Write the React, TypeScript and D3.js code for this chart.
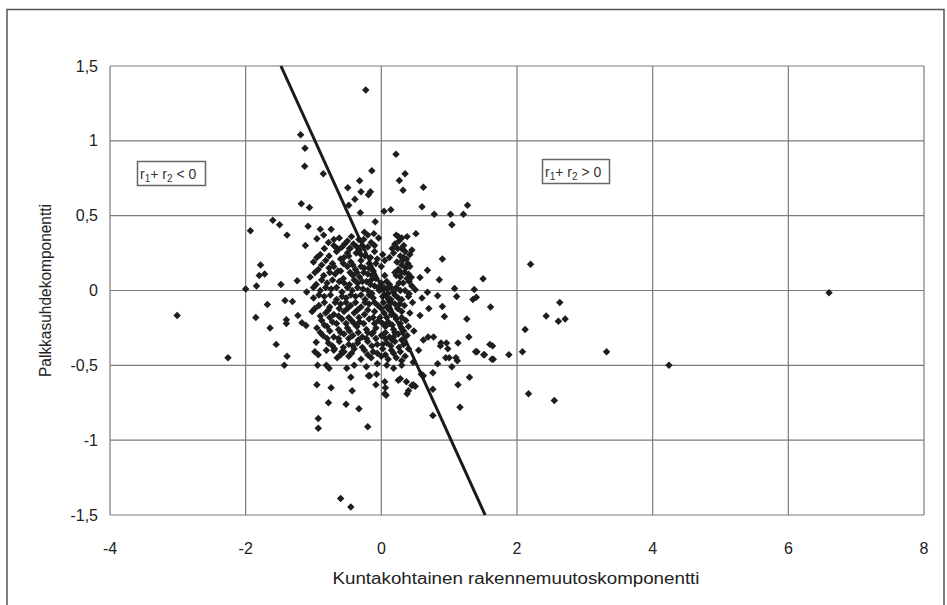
import React from "react";
import * as d3 from "d3";

const xTicks = [-4, -2, 0, 2, 4, 6, 8];
const yTicks = [-1.5, -1, -0.5, 0, 0.5, 1, 1.5];
const xTitle = "Kuntakohtainen rakennemuutoskomponentti";
const yTitle = "Palkkasuhdekomponentti";
const lineXs = [-1.48, 1.53];
const lineYs = [1.5, -1.5];

const outlierPoints: [number, number][] = [
  [-3.01, -0.167], [-2.26, -0.45], [-2.0, 0.01], [-1.93, 0.4], [-1.85, -0.18], [-1.84, 0.03],
  [-1.8, 0.1], [-1.78, 0.17], [-1.72, 0.11], [6.6, -0.015], [4.24, -0.5], [3.32, -0.41],
  [2.55, -0.735], [2.17, -0.69], [2.2, 0.176], [2.63, -0.08], [2.43, -0.17], [2.61, -0.205],
  [2.71, -0.19], [2.12, -0.26], [2.08, -0.41], [1.88, -0.43],
];

const upperPoints: [number, number][] = [
  [-0.23, 1.34], [-1.19, 1.04], [-1.125, 0.95], [-1.13, 0.83], [-0.855, 0.78], [0.216, 0.91],
  [-0.14, 0.8], [0.35, 0.78], [0.265, 0.735], [0.32, 0.67], [0.62, 0.69], [-0.32, 0.733],
  [-0.495, 0.687], [-0.3, 0.66], [-0.19, 0.64], [-0.16, 0.66], [-0.39, 0.61], [-0.48, 0.57],
  [-1.18, 0.58], [-1.06, 0.555], [-0.31, 0.52], [0.04, 0.53], [0.14, 0.54], [0.6, 0.56],
  [0.78, 0.51], [1.02, 0.51], [1.21, 0.51], [1.27, 0.57], [1.04, 0.44], [-1.6, 0.47],
  [-1.5, 0.44], [-1.08, 0.43], [-0.9, 0.41], [-0.74, 0.41], [-0.09, 0.46], [-1.39, 0.37],
  [-0.95, 0.345], [-0.25, 0.39], [-0.11, 0.38], [0.51, 0.38], [-1.12, 0.3], [-0.65, 0.28],
  [-0.54, 0.31], [-0.47, 0.28], [-0.5, 0.25], [-0.36, 0.29],
];

const sidePoints: [number, number][] = [
  [-1.48, 0.04], [-1.24, 0.065], [-1.68, -0.094], [-1.64, -0.25], [-1.55, -0.36], [-1.42, -0.067],
  [-1.31, -0.074], [-1.39, -0.44], [-1.43, -0.5], [-1.4, -0.196], [-1.4, -0.22], [-1.23, -0.167],
  [-1.17, -0.216], [-1.11, -0.234],
  [0.45, 0.27], [0.9, 0.21], [0.68, 0.136], [0.57, 0.087], [0.44, 0.089], [0.855, 0.072],
  [1.08, 0.013], [1.37, 0.007], [1.11, -0.04], [1.4, -0.045], [0.5, 0.005], [0.68, -0.011],
  [0.83, -0.035], [1.5, 0.078], [1.35, -0.06],
];

const lowerPoints: [number, number][] = [
  [-0.95, -0.63], [-0.74, -0.65], [-0.78, -0.75], [-0.52, -0.76], [-0.33, -0.79], [-0.19, -0.57],
  [-0.08, -0.63], [0.06, -0.65], [0.07, -0.7], [0.25, -0.6], [0.37, -0.61], [0.47, -0.63],
  [0.62, -0.57], [0.76, -0.55], [1.13, -0.63], [1.3, -0.58], [1.16, -0.78], [0.83, -0.49],
  [1.04, -0.51], [1.0, -0.45], [0.87, -0.37], [0.98, -0.39], [1.1, -0.45], [1.41, -0.41],
  [1.52, -0.43], [1.64, -0.37], [1.65, -0.46], [0.69, -0.31], [0.77, -0.31], [0.62, -0.33],
  [0.55, -0.4], [0.47, -0.48], [-0.93, -0.855], [-0.93, -0.92], [-0.2, -0.91], [0.76, -0.835],
  [-0.6, -1.39], [-0.45, -1.446], [-0.96, -0.345], [-0.98, -0.41], [-0.93, -0.43], [-0.81, -0.4],
  [-0.69, -0.39], [-0.58, -0.41], [-0.81, -0.5], [-0.77, -0.52], [-0.94, -0.5], [-0.51, -0.52],
  [-0.45, -0.58], [-0.43, -0.67], [0.38, -0.69], [0.5, -0.64], [0.45, -0.635], [0.59, -0.56],
  [0.76, -0.66], [0.05, -0.69], [0.05, -0.61], [0.28, -0.59], [0.4, -0.67], [-0.07, -0.56],
  [-0.17, -0.57], [1.6, -0.36], [1.39, -0.41], [1.51, -0.43], [1.63, -0.46], [0.95, -0.45],
  [1.12, -0.47], [1.29, -0.31], [1.26, -0.19], [0.9, -0.107], [0.93, -0.174], [1.61, -0.11],
  [1.13, -0.35], [0.96, -0.35], [0.88, -0.35], [0.48, -0.27], [0.57, -0.167], [0.46, -0.08],
  [0.3, -0.06], [0.41, -0.022],
];

const corePoints: [number, number][] = [
  [-0.85, 0.37], [-0.62, 0.35], [-0.44, 0.36], [-0.33, 0.34], [-0.2, 0.37], [-0.04, 0.35], [0.22, 0.37], [0.3, 0.35], [0.38, 0.36],
  [-0.78, 0.32], [-0.7, 0.3], [-0.58, 0.29], [-0.41, 0.31], [-0.28, 0.3], [-0.15, 0.32], [0.2, 0.31], [0.33, 0.3], [0.26, 0.33],
  [-0.9, 0.24], [-0.66, 0.26], [-0.55, 0.22], [-0.37, 0.25], [-0.24, 0.23], [-0.1, 0.26], [0.02, 0.24], [0.18, 0.25], [0.28, 0.23], [0.35, 0.26], [0.42, 0.24],
  [-1.0, 0.19], [-0.82, 0.2], [-0.72, 0.18], [-0.6, 0.21], [-0.45, 0.19], [-0.3, 0.2], [-0.18, 0.18], [-0.06, 0.21], [0.23, 0.19], [0.31, 0.2], [0.39, 0.18],
  [-0.93, 0.14], [-0.77, 0.15], [-0.64, 0.13], [-0.5, 0.16], [-0.38, 0.14], [-0.25, 0.15], [-0.12, 0.13], [0.0, 0.16], [0.25, 0.14], [0.36, 0.15], [0.2, 0.12],
  [-1.05, 0.09], [-0.85, 0.1], [-0.68, 0.11], [-0.56, 0.08], [-0.42, 0.1], [-0.32, 0.09], [-0.2, 0.11], [-0.08, 0.08], [0.05, 0.1], [0.28, 0.09], [0.4, 0.11],
  [-0.96, 0.04], [-0.8, 0.05], [-0.62, 0.06], [-0.47, 0.04], [-0.35, 0.05], [-0.22, 0.06], [-0.1, 0.03], [0.0, 0.05], [0.12, 0.04], [0.32, 0.05], [0.45, 0.03],
  [-1.1, -0.01], [-0.9, 0.0], [-0.74, 0.01], [-0.58, -0.01], [-0.43, 0.0], [-0.27, 0.01], [-0.14, -0.02], [-0.03, 0.0], [0.08, 0.01], [0.18, -0.01], [0.35, 0.0],
  [-1.0, -0.05], [-0.84, -0.04], [-0.66, -0.06], [-0.52, -0.05], [-0.38, -0.04], [-0.24, -0.06], [-0.12, -0.05], [0.02, -0.04], [0.14, -0.06], [0.25, -0.05], [0.6, -0.05],
  [-0.92, -0.1], [-0.76, -0.11], [-0.6, -0.09], [-0.45, -0.1], [-0.3, -0.11], [-0.18, -0.09], [-0.05, -0.1], [0.08, -0.11], [0.2, -0.09], [0.34, -0.1], [0.7, -0.12],
  [-1.02, -0.14], [-0.82, -0.15], [-0.7, -0.16], [-0.55, -0.14], [-0.4, -0.15], [-0.25, -0.16], [-0.1, -0.14], [0.04, -0.15], [0.15, -0.16], [0.3, -0.14], [0.42, -0.15],
  [-0.88, -0.2], [-0.72, -0.21], [-0.58, -0.19], [-0.44, -0.2], [-0.32, -0.21], [-0.18, -0.19], [-0.04, -0.2], [0.1, -0.21], [0.22, -0.19], [0.36, -0.2],
  [-0.95, -0.25], [-0.8, -0.24], [-0.63, -0.26], [-0.5, -0.25], [-0.36, -0.24], [-0.22, -0.26], [-0.08, -0.25], [0.06, -0.24], [0.18, -0.26], [0.3, -0.25], [0.4, -0.24],
  [-0.86, -0.3], [-0.7, -0.31], [-0.55, -0.29], [-0.42, -0.3], [-0.28, -0.31], [-0.14, -0.29], [0.0, -0.3], [0.12, -0.31], [0.25, -0.29], [0.38, -0.3],
  [-0.78, -0.35], [-0.62, -0.34], [-0.48, -0.36], [-0.35, -0.35], [-0.2, -0.34], [-0.06, -0.36], [0.08, -0.35], [0.2, -0.34], [0.33, -0.36],
  [-0.7, -0.4], [-0.55, -0.41], [-0.4, -0.39], [-0.25, -0.4], [-0.12, -0.41], [0.02, -0.39], [0.15, -0.4], [0.28, -0.41], [0.4, -0.39],
  [-0.65, -0.45], [-0.48, -0.44], [-0.3, -0.46], [-0.15, -0.45], [0.0, -0.44], [0.1, -0.46], [0.22, -0.45], [0.35, -0.44],
  [-0.4, -0.5], [-0.22, -0.51], [-0.06, -0.49], [0.08, -0.5], [0.18, -0.52], [0.3, -0.5],
  [-0.05, 0.02], [0.03, -0.08], [-0.15, 0.07], [0.1, -0.02], [-0.08, 0.18], [0.05, 0.2], [-0.02, -0.18], [0.12, -0.22],
  [-0.12, -0.28], [0.16, -0.33], [0.24, 0.28], [0.37, 0.21], [0.29, 0.12], [0.41, 0.06], [0.22, 0.02],
];

const densePoints: [number, number][] = [
  [-0.7, 0.34], [-0.5, 0.33], [-0.26, 0.34], [-0.1, 0.3], [0.25, 0.36],
  [-0.84, 0.28], [-0.64, 0.27], [-0.46, 0.28], [-0.32, 0.27], [-0.2, 0.29], [0.16, 0.28], [0.3, 0.28],
  [-0.95, 0.22], [-0.77, 0.23], [-0.48, 0.23], [-0.3, 0.24], [-0.16, 0.22], [0.12, 0.22], [0.33, 0.22],
  [-0.88, 0.17], [-0.7, 0.16], [-0.56, 0.18], [-0.42, 0.17], [-0.3, 0.16], [-0.18, 0.15], [0.3, 0.17], [0.42, 0.16],
  [-0.98, 0.12], [-0.76, 0.12], [-0.6, 0.13], [-0.46, 0.12], [-0.36, 0.12], [-0.26, 0.12], [-0.14, 0.1], [0.22, 0.1], [0.34, 0.12],
  [-0.88, 0.07], [-0.72, 0.07], [-0.55, 0.05], [-0.4, 0.07], [-0.28, 0.06], [-0.16, 0.04], [0.08, 0.06], [0.26, 0.05], [0.38, 0.08],
  [-1.0, 0.02], [-0.82, 0.02], [-0.66, 0.02], [-0.5, 0.02], [-0.35, 0.02], [-0.2, 0.0], [0.04, 0.02], [0.14, 0.02], [0.28, 0.0],
  [-0.92, -0.03], [-0.75, -0.03], [-0.58, -0.04], [-0.45, -0.03], [-0.3, -0.03], [-0.18, -0.03], [0.08, -0.04], [0.2, -0.03], [0.4, -0.04],
  [-0.84, -0.08], [-0.68, -0.08], [-0.52, -0.08], [-0.38, -0.08], [-0.24, -0.08], [-0.1, -0.08], [0.14, -0.08], [0.27, -0.09],
  [-0.98, -0.12], [-0.78, -0.13], [-0.62, -0.12], [-0.5, -0.12], [-0.35, -0.13], [-0.2, -0.13], [0.0, -0.12], [0.12, -0.13], [0.24, -0.12],
  [-0.9, -0.17], [-0.76, -0.18], [-0.63, -0.17], [-0.48, -0.18], [-0.33, -0.18], [-0.12, -0.18], [0.08, -0.18], [0.2, -0.17], [0.3, -0.18],
  [-0.84, -0.23], [-0.66, -0.22], [-0.52, -0.22], [-0.4, -0.22], [-0.26, -0.22], [-0.1, -0.22], [0.02, -0.22], [0.16, -0.23], [0.28, -0.22],
  [-0.9, -0.28], [-0.76, -0.27], [-0.6, -0.28], [-0.47, -0.27], [-0.34, -0.28], [-0.2, -0.28], [0.06, -0.28], [0.2, -0.28], [0.33, -0.27],
  [-0.8, -0.32], [-0.63, -0.32], [-0.48, -0.32], [-0.34, -0.33], [-0.22, -0.32], [-0.08, -0.32], [0.06, -0.32], [0.18, -0.31], [0.3, -0.33],
  [-0.72, -0.37], [-0.56, -0.38], [-0.42, -0.37], [-0.28, -0.38], [-0.14, -0.37], [0.02, -0.36], [0.14, -0.37], [0.26, -0.38],
  [-0.6, -0.43], [-0.44, -0.42], [-0.2, -0.43], [-0.06, -0.42], [0.06, -0.43], [0.18, -0.42], [0.3, -0.47],
];

const allPoints = [...outlierPoints, ...upperPoints, ...sidePoints, ...lowerPoints, ...corePoints, ...densePoints];

const W = 947;
const H = 605;
const plot = { left: 110, right: 924, top: 66, bottom: 515 };
const FONT = "'Liberation Sans', Arial, sans-serif";
const GRID = "#7a7a7a";

export default function App() {
  const x = d3.scaleLinear().domain([-4, 8]).range([plot.left, plot.right]);
  const y = d3.scaleLinear().domain([-1.5, 1.5]).range([plot.bottom, plot.top]);
  const marker = d3.symbol().type(d3.symbolSquare).size(28)() as string;
  const fmt = (v: number) => String(v).replace(".", ",");
  const linePath = d3.line<number>()
    .x((_, i) => x(lineXs[i]))
    .y((_, i) => y(lineYs[i]))(lineXs) as string;

  return (
    <svg width={W} height={H} style={{ position: "absolute", left: 0, top: 0, background: "#fff" }}>
      <rect x={0} y={0} width={W} height={H} fill="#fff" />
      <rect x={7} y={9.5} width={937} height={640} fill="none" stroke="#555" strokeWidth={1.5} />
      {xTicks.map((t) => (
        <line key={"gx" + t} x1={x(t)} x2={x(t)} y1={plot.top} y2={plot.bottom} stroke={GRID} strokeWidth={1.2} />
      ))}
      {yTicks.map((t) => (
        <line key={"gy" + t} x1={plot.left} x2={plot.right} y1={y(t)} y2={y(t)} stroke={GRID} strokeWidth={1.2} />
      ))}
      {xTicks.map((t) => (
        <text key={"tx" + t} x={x(t)} y={554} textAnchor="middle" fontFamily={FONT} fontSize={16} fill="#222">
          {fmt(t)}
        </text>
      ))}
      {yTicks.map((t) => (
        <text key={"ty" + t} x={98} y={y(t) + 5.5} textAnchor="end" fontFamily={FONT} fontSize={16} fill="#222">
          {fmt(t)}
        </text>
      ))}
      <text x={(plot.left + plot.right) / 2 - 1} y={584} textAnchor="middle" fontFamily={FONT} fontSize={16}
        textLength={367} lengthAdjust="spacingAndGlyphs" fill="#222">{xTitle}</text>
      <text transform={`translate(51, ${(plot.top + plot.bottom) / 2}) rotate(-90)`} textAnchor="middle"
        fontFamily={FONT} fontSize={16} textLength={173} lengthAdjust="spacingAndGlyphs" fill="#222">{yTitle}</text>

      {allPoints.map((p, i) => (
        <path key={"p" + i} d={marker} transform={`translate(${x(p[0])},${y(p[1])}) rotate(45)`} fill="#1e1e1e" />
      ))}
      <path d={linePath} stroke="#1a1a1a" strokeWidth={3} fill="none" />

      <rect x={137.5} y={161.5} width={68} height={24} fill="#fff" stroke="#666" strokeWidth={1.5} />
      <text x={140} y={179} fontFamily={FONT} fontSize={14} fill="#333">
        r<tspan fontSize={10} dy={3}>1</tspan><tspan dy={-3}>+ r</tspan><tspan fontSize={10} dy={3}>2</tspan><tspan dy={-3}> &lt; 0</tspan>
      </text>
      <rect x={542.5} y={159.5} width={67} height={24} fill="#fff" stroke="#666" strokeWidth={1.5} />
      <text x={545} y={177} fontFamily={FONT} fontSize={14} fill="#333">
        r<tspan fontSize={10} dy={3}>1</tspan><tspan dy={-3}>+ r</tspan><tspan fontSize={10} dy={3}>2</tspan><tspan dy={-3}> &gt; 0</tspan>
      </text>
    </svg>
  );
}
